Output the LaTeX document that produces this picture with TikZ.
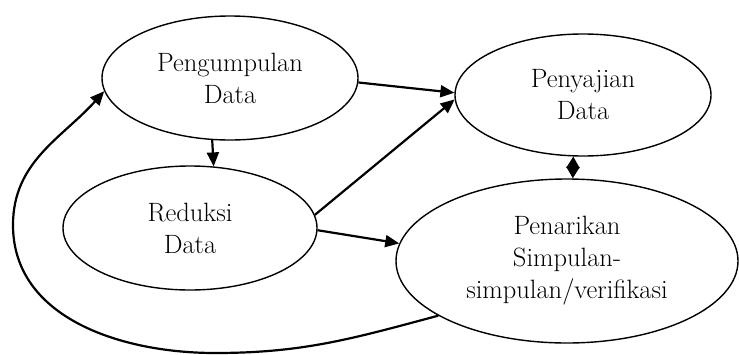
\documentclass[tikz,border=0pt]{standalone}
\usepackage{fontspec}
\usetikzlibrary{shapes.geometric,arrows.meta}
\begin{document}
\begin{tikzpicture}[x=1pt,y=-1pt,
  oval/.style={draw,ellipse,line width=1.4pt,inner sep=0pt,align=center,
    font=\fontsize{26.5}{32}\selectfont},
  flow/.style={line width=2.2pt,-{Triangle[length=14pt,width=12pt]}},
  both/.style={line width=2.2pt,{Triangle[length=11.5pt,width=13pt]}-{Triangle[length=11.5pt,width=13pt]}}]
\useasboundingbox (0,0) rectangle (739,354);
\node[oval,minimum width=256pt,minimum height=124pt] (p) at (230,78) {Pengumpulan\\Data};
\node[oval,minimum width=254pt,minimum height=124pt] (r) at (190,228) {Reduksi\\Data};
\node[oval,minimum width=256pt,minimum height=122pt] (c) at (583,95) {Penyajian\\Data};
\node[oval,minimum width=342pt,minimum height=164pt] (d) at (567,261) {Penarikan\\Simpulan-\\simpulan/verifikasi};
\draw[flow] (p.254.5) -- (r.69.3);
\draw[flow] (p.-2) -- (c.179);
\draw[flow] (r.6) -- (c.182);
\draw[flow] (r.-1) -- (d.174);
\draw[both] (c.261) -- (d.86);
\draw[flow] (d.203) to[out=195,in=0] (215,353) to[out=180,in=-90] (13,225) to[out=90,in=228] (p.186);
\end{tikzpicture}
\end{document}
